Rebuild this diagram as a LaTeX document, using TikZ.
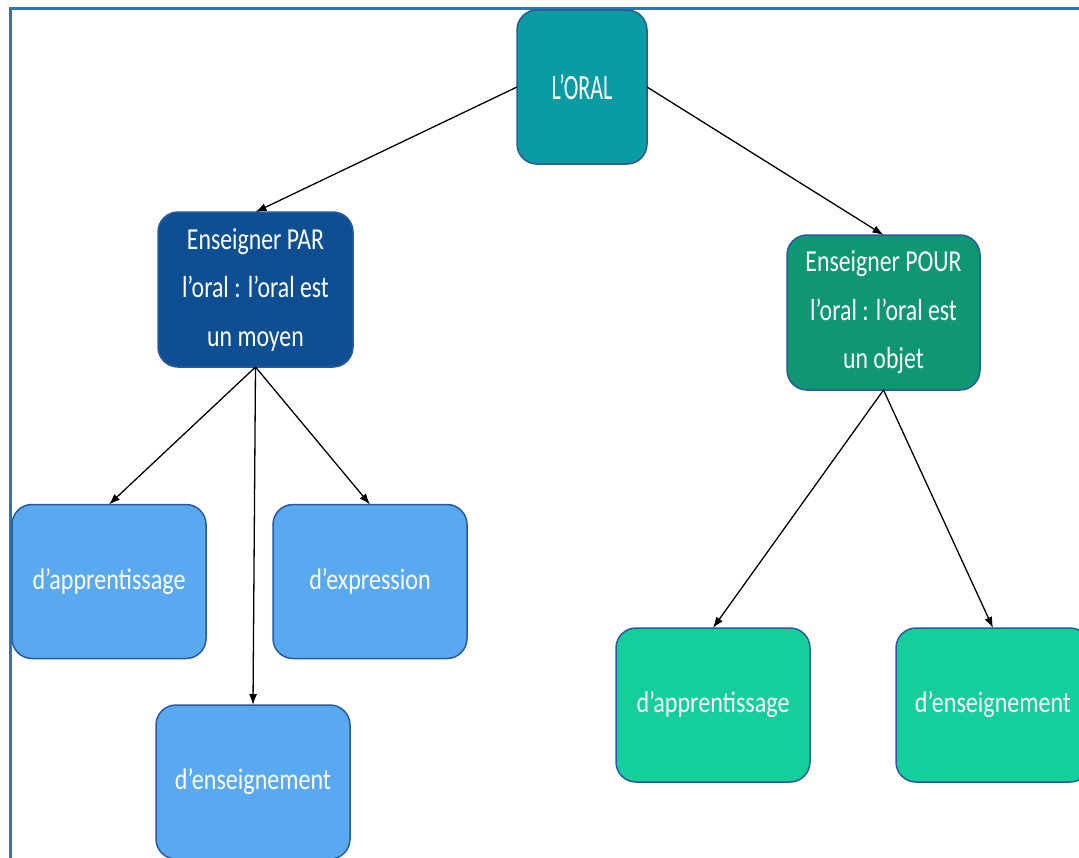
\documentclass[tikz,border=0pt]{standalone}
\usepackage{fontspec}
\usetikzlibrary{arrows.meta}
\newfontfamily\oralfont[FakeStretch=0.62]{Carlito}
\newfontfamily\headfont[FakeStretch=0.78]{Carlito}
\newfontfamily\leaffont[FakeStretch=0.81]{Carlito}
\definecolor{frameblue}{HTML}{2E75B6}
\definecolor{edgeblue}{HTML}{2A5A9E}
\definecolor{oralfill}{HTML}{0B9BA3}
\definecolor{parfill}{HTML}{0E4F93}
\definecolor{pourfill}{HTML}{0F9672}
\definecolor{lightblue}{HTML}{59A9F0}
\definecolor{lightgreen}{HTML}{14CF9B}
\tikzset{
  box/.style={draw=edgeblue, line width=1.5pt, rounded corners=20pt, text=white,
    inner sep=0pt, outer sep=0pt, minimum width=194pt, minimum height=154pt, align=center},
  oralbox/.style={box, fill=oralfill, minimum width=130pt, font=\oralfont\fontsize{35.5}{40}\selectfont},
  headbox/.style={box, font=\headfont\fontsize{30.5}{48.5}\selectfont},
  leafbox/.style={box, font=\leaffont\fontsize{29.7}{34}\selectfont},
  conn/.style={draw=black, line width=1.3pt, -{Latex[length=11pt,width=8pt]}},
  frameline/.style={draw=frameblue, line width=3pt}
}
\begin{document}
\begin{tikzpicture}[x=1pt,y=-1pt]
\useasboundingbox (0,0) rectangle (1079,857);
\clip (0,0) rectangle (1079,857);
\fill[white] (0,0) rectangle (1079,857);
\draw[frameline] (10,870) -- (10,8) -- (1090,8);

\node[oralbox] (oral) at (582,87) {L’ORAL};
\node[headbox, fill=parfill, minimum width=195pt, minimum height=155pt] (par) at (255.5,289.5)
  {Enseigner PAR\\l’oral : l’oral est\\un moyen};
\node[headbox, fill=pourfill, minimum width=193pt, minimum height=155pt] (pour) at (883.5,312.5)
  {Enseigner POUR\\l’oral : l’oral est\\un objet};

\node[leafbox, fill=lightblue] (app1) at (109,581.5) {d’apprentissage};
\node[leafbox, fill=lightblue] (expr) at (370,581.5) {d’expression};
\node[leafbox, fill=lightblue] (ens1) at (253,782) {d’enseignement};
\node[leafbox, fill=lightgreen] (app2) at (713,705) {d’apprentissage};
\node[leafbox, fill=lightgreen] (ens2) at (993,705) {d’enseignement};

\draw[conn] (oral.west) -- (par.north);
\draw[conn] (oral.east) -- (pour.north);
\draw[conn] (par.south) -- (app1.north);
\draw[conn] (par.south) -- (ens1.north);
\draw[conn] (par.south) -- (expr.north);
\draw[conn] (pour.south) -- (app2.north);
\draw[conn] (pour.south) -- (ens2.north);
\end{tikzpicture}
\end{document}
